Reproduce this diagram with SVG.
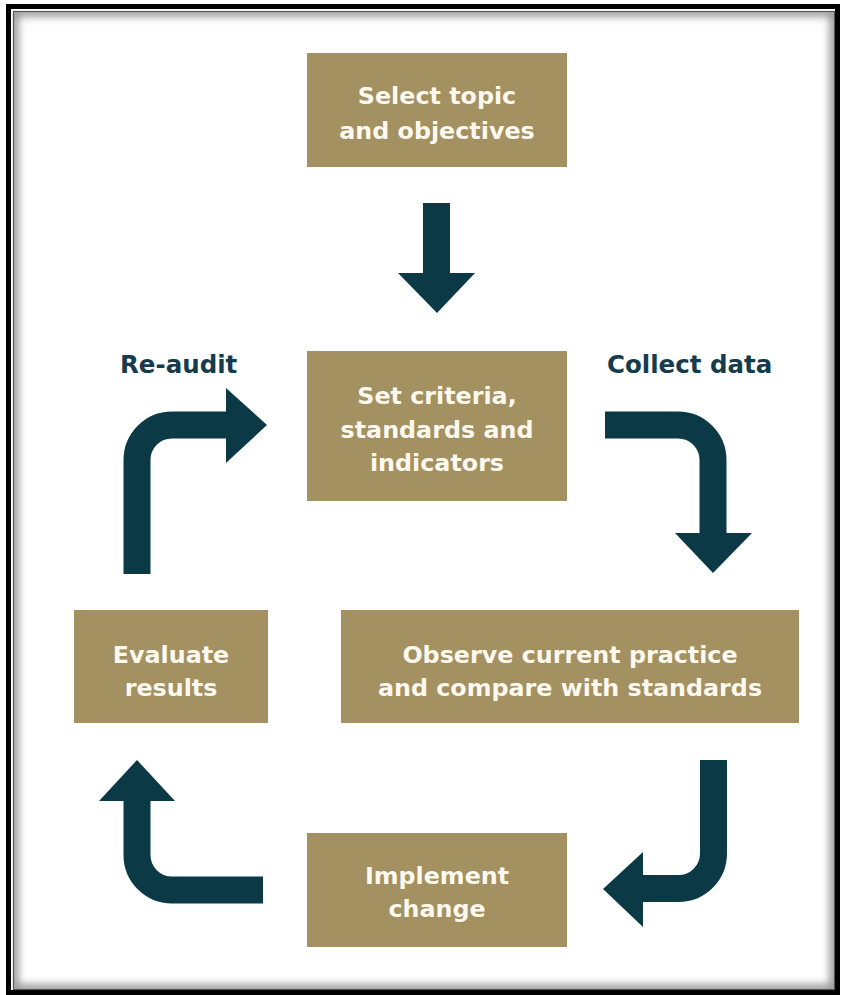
<svg xmlns="http://www.w3.org/2000/svg" width="841" height="995" viewBox="0 0 841 995">
<defs>
<filter id="blur" x="-5%" y="-5%" width="110%" height="110%"><feGaussianBlur stdDeviation="4"/></filter>
<clipPath id="inner"><rect x="14" y="12" width="820" height="977"/></clipPath>
</defs>
<style>
.box{fill:#a39161}
.bt{font-family:"DejaVu Sans","Liberation Sans",sans-serif;font-weight:700;font-size:23.8px;fill:#fdf9ee;text-anchor:middle}
.lbl{font-family:"DejaVu Sans","Liberation Sans",sans-serif;font-weight:700;font-size:24.5px;fill:#143c4d}
.shaft{fill:none;stroke:#0b3946;stroke-width:27;stroke-linecap:butt;stroke-linejoin:miter}
.head{fill:#0b3946}
</style>
<rect x="0" y="0" width="841" height="995" fill="#ffffff"/>
<g id="frame">
<rect x="8.5" y="6.5" width="829" height="986" fill="none" stroke="#000" stroke-width="5"/>
<g clip-path="url(#inner)">
<rect x="14" y="12" width="820" height="977" fill="none" stroke="#888" stroke-width="8" filter="url(#blur)"/>
</g>
<rect x="13.5" y="11.5" width="821" height="978" fill="none" stroke="#555" stroke-width="1.2"/>
</g>
<g id="n1"><rect class="box" x="307" y="53" width="260" height="114"/>
<text class="bt" x="437" y="104">Select topic</text><text class="bt" x="437" y="139">and objectives</text></g>
<g id="n2"><rect class="box" x="307" y="351" width="260" height="150"/>
<text class="bt" x="437" y="404">Set criteria,</text><text class="bt" x="437" y="438">standards and</text><text class="bt" x="437" y="471">indicators</text></g>
<g id="n3"><rect class="box" x="341" y="610" width="458" height="113"/>
<text class="bt" x="570" y="663">Observe current practice</text><text class="bt" x="570" y="696">and compare with standards</text></g>
<g id="n4"><rect class="box" x="74" y="610" width="194" height="113"/>
<text class="bt" x="171" y="663">Evaluate</text><text class="bt" x="171" y="696">results</text></g>
<g id="n5"><rect class="box" x="307" y="833" width="260" height="114"/>
<text class="bt" x="437" y="884">Implement</text><text class="bt" x="437" y="917">change</text></g>
<g id="labels">
<text class="lbl" x="120" y="373">Re-audit</text>
<text class="lbl" x="607" y="373">Collect data</text>
</g>
<g id="connectors">
<rect x="423" y="203" width="27" height="71" fill="#0b3946"/>
<polygon class="head" points="398,273 475,273 437,313"/>
<path class="shaft" d="M137 574 V460 A35 35 0 0 1 172 425 H227"/>
<polygon class="head" points="226,388 226,463 267,425"/>
<path class="shaft" d="M605 425 H678 A35 35 0 0 1 713 460 V534"/>
<polygon class="head" points="675,533 752,533 713,573"/>
<path class="shaft" d="M713.5 760 V853.5 A35 35 0 0 1 678.5 888.5 H642"/>
<polygon class="head" points="643,852 643,927 603,889"/>
<path class="shaft" d="M263 890 H172 A35 35 0 0 1 137 855 V800"/>
<polygon class="head" points="99,801 175,801 137,760"/>
</g>
</svg>
